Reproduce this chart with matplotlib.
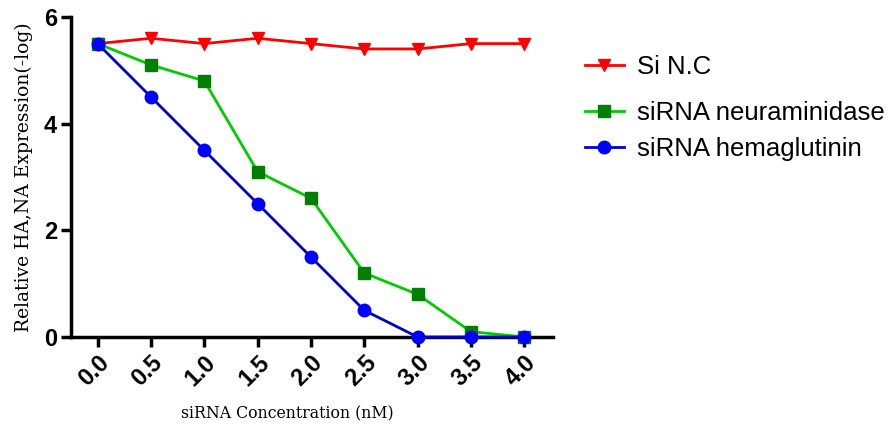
import numpy as np
import matplotlib.pyplot as plt
from matplotlib.lines import Line2D

# siRNA dose series
conc = [0.0, 0.5, 1.0, 1.5, 2.0, 2.5, 3.0, 3.5, 4.0]
si_nc = [5.5, 5.6, 5.5, 5.6, 5.5, 5.4, 5.4, 5.5, 5.5]
si_neuraminidase = [5.5, 5.1, 4.8, 3.1, 2.6, 1.2, 0.8, 0.1, 0.0]
si_hemaglutinin = [5.5, 4.5, 3.5, 2.5, 1.5, 0.5, 0.0, 0.0, 0.0]

x_ticks = ["0.0", "0.5", "1.0", "1.5", "2.0", "2.5", "3.0", "3.5", "4.0"]
y_ticks = [0, 2, 4, 6]

fig = plt.figure(figsize=(8.94, 4.34), dpi=100)
ax = fig.add_axes([0.0794, 0.2235, 0.5392, 0.7375])

ax.plot(conc, si_nc, color='#ff0000', lw=2, marker='v', ms=9,
        mfc='#ff0000', mec='#ff0000', zorder=3, clip_on=False)
ax.plot(conc, si_neuraminidase, color='#00cc00', lw=2, marker='s', ms=9,
        mfc='#007f00', mec='#007f00', zorder=4, clip_on=False)
ax.plot(conc, si_hemaglutinin, color='#0000cc', lw=2, marker='o', ms=9,
        mfc='#0000ff', mec='#0000ff', zorder=5, clip_on=False)

ax.set_xlim(-0.25, 4.27)
ax.set_ylim(0, 6)
ax.set_xticks(conc)
ax.set_xticklabels(x_ticks, rotation=45, ha='right', rotation_mode='anchor',
                   fontsize=17, fontweight='bold', family='Liberation Sans')
ax.set_yticks(y_ticks)
ax.set_yticklabels([str(v) for v in y_ticks], fontsize=17, fontweight='bold',
                   family='Liberation Sans')

for side in ['top', 'right']:
    ax.spines[side].set_visible(False)
for side in ['left', 'bottom']:
    ax.spines[side].set_linewidth(2.5)
ax.tick_params(axis='both', width=2.5, length=7, direction='out', pad=3)

ax.set_xlabel('siRNA Concentration (nM)', family='DejaVu Serif', fontsize=11.3)
ax.xaxis.set_label_coords(0.448, -0.213)
ax.set_ylabel('Relative HA,NA Expression(-log)', family='DejaVu Serif',
              fontsize=13.5, labelpad=8)

# legend: first entry set apart from the two siRNA entries
h_nc = Line2D([], [], color='#ff0000', lw=2, marker='v', ms=9,
              mfc='#ff0000', mec='#ff0000')
h_na = Line2D([], [], color='#00cc00', lw=2, marker='s', ms=9,
              mfc='#007f00', mec='#007f00')
h_ha = Line2D([], [], color='#0000cc', lw=2, marker='o', ms=9,
              mfc='#0000ff', mec='#0000ff')
leg_font = {'family': 'Liberation Sans', 'size': 18.5}
fig.legend([h_nc], ['Si N.C'], loc='center left',
           bbox_to_anchor=(0.6545, 1 - 67 / 434), frameon=False,
           prop=leg_font, handlelength=1.5, handletextpad=0.5,
           borderpad=0, borderaxespad=0)
fig.legend([h_na, h_ha], ['siRNA neuraminidase', 'siRNA hemaglutinin'],
           loc='center left', bbox_to_anchor=(0.6545, 1 - 131 / 434),
           frameon=False, prop=leg_font, handlelength=1.5,
           handletextpad=0.5, labelspacing=0.5,
           borderpad=0, borderaxespad=0)

plt.savefig('out.png', dpi=100)
